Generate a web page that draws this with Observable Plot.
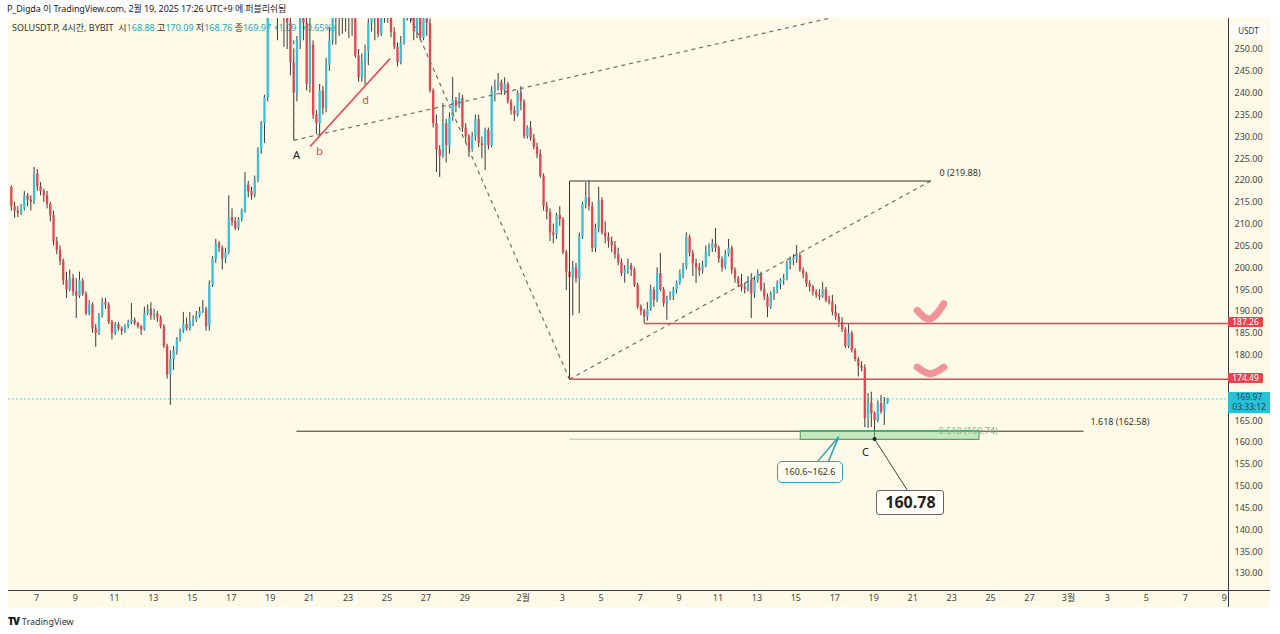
<!DOCTYPE html>
<html>
<head>
<meta charset="utf-8">
<script src="https://cdn.jsdelivr.net/npm/d3@7"></script>
<script src="https://cdn.jsdelivr.net/npm/@observablehq/plot@0.6"></script>
<style>
  html,body{margin:0;padding:0;background:#fff;}
  #wrap{position:relative;width:1280px;height:634px;overflow:hidden;font-family:"Noto Sans","Noto Sans CJK KR",sans-serif;color:#222;}
  #bg{position:absolute;left:8px;top:18px;width:1262px;height:589px;background:#fefae7;}
  #hdr{position:absolute;left:7px;top:3px;font-size:9px;line-height:12px;white-space:nowrap;color:#222;letter-spacing:-0.1px;}
  #leg{position:absolute;left:12px;top:22px;font-size:9px;line-height:12px;white-space:nowrap;color:#333;}
  #leg .v{color:#22a9c2;}
  #chart{position:absolute;left:0;top:0;}
  .box{position:absolute;box-sizing:border-box;text-align:center;white-space:nowrap;}
  #foot{position:absolute;left:8px;top:615px;font-size:9px;line-height:12px;color:#333;}
  #foot b{font-weight:900;font-size:10px;letter-spacing:-1px;margin-right:3px;color:#131722;}
</style>
</head>
<body>
<div id="wrap">
  <div id="bg"></div>
  <div id="hdr">P_Digda 이 TradingView.com, 2월 19, 2025 17:26 UTC+9 에 퍼블리쉬됨</div>
  <div id="leg">SOLUSDT.P, 4시간, BYBIT&nbsp;&nbsp;시<span class="v">168.88</span> 고<span class="v">170.09</span> 저<span class="v">168.76</span> 종<span class="v">169.97</span> <span class="v">+1.09 (+0.65%)</span></div>
  <div id="chart"></div>
  <div id="foot"><b>TV</b>TradingView</div>
</div>
<script>
// ---------- DATA (4-hour candles, first bar = Jan 5 17:00 KST) ----------
const firstOpen = 218.4;
const closes = [
  214, 213,
  212.5, 213.5, 216.5, 215.5, 215, 221.5,
  218.5, 217.5, 216.5, 214.5, 212, 206,
  204, 201.5, 197, 195, 197.5, 194.5,
  193.5, 197, 194, 189.5, 191.5, 186,
  185, 189, 192, 191.5, 187.5, 185,
  187, 186, 185.5, 186.5, 187.5, 188,
  187.3, 186.5, 185.8, 189.5, 190.5, 189,
  189.5, 188.5, 186.5, 182, 175.5, 179,
  181, 183.5, 185.5, 187, 186, 187.5,
  188, 189, 190, 190.5, 186.5, 196,
  202, 205.5, 204.5, 202, 203.5, 211.5,
  210.5, 209, 211, 213, 219, 217.5,
  216.5, 220, 227, 233, 239, 262,
  272, 285, 274, 266, 259, 256,
  247, 240, 252, 262, 256, 242,
  251, 235, 233, 240.5, 236.5, 246.5,
  252, 262, 258, 262, 257, 262,
  259, 257, 248.5, 243.5, 247, 249.5,
  256, 262, 257.5, 253.5, 260, 262,
  261, 254, 250.5, 247, 251.5, 257,
  262, 259, 254, 257.5, 252.5, 257,
  256, 240.5, 233, 227, 225.5, 233,
  228, 234.4, 238.3, 237, 238.8, 232,
  230, 227, 230, 234, 228.5, 228,
  231.5, 228, 240.5, 241.3, 242.5, 240.5,
  242, 238, 236, 235, 240, 238,
  230, 232, 229.6, 227.6, 226, 221,
  214, 212.7, 208, 207.5, 212, 211,
  203.5, 199, 197.8, 200, 197.5, 207,
  214.5, 216, 214, 204.5, 209, 215.4,
  208, 207, 206, 205, 203, 201.2,
  198.7, 199.5, 200.5, 199.5, 196, 191,
  190, 188.7, 190.5, 195, 192.5, 198.7,
  195, 191.8, 193, 193.5, 195, 196.5,
  198.7, 200, 207, 203.3, 201, 200,
  199.3, 200.5, 203.5, 204.5, 205.5, 204.5,
  202, 200, 203, 204.5, 199.4, 197.5,
  196.3, 195.5, 195, 197.1, 194.1, 197.1,
  198.6, 195, 193.3, 191, 194, 194.8,
  196.3, 197.1, 197.5, 200.9, 201.7, 202.2,
  202.8, 199.4, 198.6, 196.3, 195.6, 194.4,
  193.7, 193.3, 195, 192.5, 192.1, 189.8,
  188.7, 187.5, 185.8, 182, 185, 181,
  179, 177.5, 177, 165.5, 169, 166.6,
  165, 168.9, 167, 168.88, 169.97
];
const highs = [
  218.8, 215,
  214, 214.5, 217.5, 217, 216.5, 223,
  222.5, 219.5, 218, 217.5, 215, 213,
  207, 205, 202, 199, 199.5, 198.5,
  197.5, 199, 197.5, 194.5, 192.5, 192,
  187, 189.5, 193, 193, 192, 188,
  187.5, 187.5, 186.5, 187, 188, 191.8,
  188.5, 187.5, 186.8, 191, 191.5, 192,
  190.5, 190, 189, 187, 182.5, 181,
  182, 184, 186, 189.8, 188.5, 189.8,
  189, 190, 191, 192.5, 191, 197,
  202.5, 206.5, 206, 205, 204.5, 216.5,
  213.5, 211.5, 211.5, 213.5, 221.8, 219.8,
  218.5, 221, 227.5, 233.5, 239.5, 265,
  280, 295, 290, 278, 270, 263,
  258, 250, 253, 265, 268, 258,
  258, 252, 236, 242, 241.5, 248,
  255, 266, 265, 266, 264, 265,
  264, 262, 258, 250, 249, 251,
  257, 266, 264, 259, 262, 265,
  266, 262, 255, 251.5, 253, 259,
  266, 263, 260, 259, 258, 260,
  261, 257, 241, 235, 228, 237.6,
  234, 235.5, 243.6, 239, 240, 239.5,
  233, 230.5, 231, 235, 235, 230,
  232, 232, 241.5, 243, 244.5, 243,
  243.5, 242.5, 238.5, 237, 240.5, 241.5,
  238.5, 232.5, 233.5, 230.5, 228.5, 227,
  221.5, 215, 213.5, 210, 212.5, 214,
  211.5, 204, 201, 201.5, 201, 208,
  215, 219.5, 219.88, 215, 210, 218.5,
  216, 210.5, 208, 207, 206, 204.5,
  202, 200.5, 202, 201, 200, 196.5,
  191.5, 190.5, 192, 196, 195.5, 200,
  203.3, 195.5, 193.5, 194.5, 195.5, 197,
  199.5, 201, 208, 207.5, 204, 202,
  201, 201.5, 205, 205.5, 206.5, 209,
  205, 202.5, 204, 206.5, 205, 200,
  198, 198.5, 196.5, 198, 198.6, 198,
  199.5, 199, 196.5, 194, 194.5, 195.5,
  197, 197.5, 198.5, 201.5, 202.5, 203,
  205.1, 203.5, 200, 199, 197, 196,
  195, 195, 196.6, 195.5, 193.5, 193.7,
  191.5, 189.5, 188.6, 186.3, 187, 185.5,
  181.5, 179.5, 178.5, 177.8, 171.2, 171.5,
  167, 169.5, 170.8, 170.3, 170.09
];
const lows = [
  213, 211.3,
  211.5, 212, 213, 214, 213, 214.5,
  217.5, 216.5, 215, 213.5, 210.5, 205,
  203, 200.5, 196, 193, 194.5, 193.5,
  188.4, 193, 193.5, 189, 189, 185,
  181.8, 184.5, 188.5, 190.5, 187, 183.5,
  184.5, 185.5, 184.5, 185, 186, 187,
  186.8, 186, 184.5, 185.5, 189, 188,
  188, 187.5, 186, 181.5, 174.5, 168.5,
  176.5, 180, 183, 185, 185.5, 185.5,
  186.5, 187.5, 188.5, 189.5, 185.5, 185.5,
  195.5, 201, 203.5, 199.5, 201, 203,
  209.5, 208.5, 208.5, 210.5, 212.5, 216,
  215.5, 216, 219.5, 226, 228.5, 238,
  258, 268, 252, 258, 250.5, 250,
  244, 229.2, 238, 250, 252, 240.5,
  240, 234, 230.5, 229.8, 235, 235.5,
  245, 251, 251, 253, 253.5, 254,
  252.5, 253, 248, 242.5, 242.5, 241.8,
  246.3, 254, 252, 252.7, 253, 256,
  256, 252.7, 250, 246, 246.5, 251,
  256.5, 256, 252, 252.5, 252, 252,
  253, 240, 232, 221.8, 220.7, 225,
  224, 226, 233.5, 235.5, 236.5, 231,
  228.5, 225.3, 226.5, 229, 227.5, 225,
  222.3, 227, 227.5, 238, 240.5, 239.5,
  239.5, 237.5, 235, 233.5, 234.5, 236,
  229.5, 229.5, 229, 227, 225, 220.5,
  213, 211, 206, 205.5, 206.5, 209.5,
  203, 194.8, 174.49, 189, 196.5, 189.5,
  206.5, 213.5, 213, 203.5, 203.5, 208,
  207.5, 205.5, 204.5, 203.5, 202, 200.5,
  198, 196.5, 198.5, 198, 195.5, 190.5,
  189, 187.26, 187.8, 190, 191, 192,
  194.5, 191, 188, 192.5, 192.5, 194,
  196, 197.5, 199.5, 202.5, 198, 196.4,
  198, 198.5, 200, 202.5, 203.5, 203.5,
  201, 199, 199.5, 202.5, 198.5, 196.5,
  195.5, 194.5, 194, 194.5, 188.4, 193,
  196.5, 194.5, 192.5, 188.6, 190.5, 192.5,
  194, 195, 196, 197, 199.5, 200.5,
  201, 199, 197.5, 195.5, 194.5, 193.5,
  193, 192.5, 193, 192, 191.5, 189,
  188, 186.3, 185.2, 181.5, 181.5, 180.5,
  178.5, 175, 176.2, 163.4, 163.2, 163.4,
  160.78, 164.5, 166.5, 163.9, 168.76
];
const currentPrice = 169.97;
const countdown = "03:33:12";
const levelPrices = [187.26, 174.49];
// x axis: day numbers counted from Jan 0 (KST); Feb 1 = 32, Mar 1 = 60
const tickDays = [7,9,11,13,15,17,19,21,23,25,27,29,32,34,36,38,40,42,44,46,48,50,52,54,56,58,60,62,64,66,68];
const tickLabels = ["7","9","11","13","15","17","19","21","23","25","27","29","2월","3","5","7","9","11","13","15","17","19","21","23","25","27","3월","3","5","7","9"];
// price ticks (170 and 175 are hidden behind the price labels in the original)
const priceTicks = [130,135,140,145,150,155,160,165,180,185,190,195,200,205,210,215,220,225,230,235,240,245,250];
// pattern / fib anchors (day, price)
const fibLevels = [
  {name: "0", price: 219.88},
  {name: "0.618", price: 160.74},
  {name: "1.618", price: 162.58}
];
const zoneLow = 160.6, zoneHigh = 162.6;
const pointA = {t: 20.2083, p: 229.2};
const pointX = {t: 34.375, p: 174.49};
const pointC = {t: 50.042, p: 160.78};

// ---------- BUILD ----------
const T0 = 5 + 17/24;
const candles = closes.map((c, i) => ({
  t: T0 + i/6, o: i === 0 ? firstOpen : closes[i-1], c, h: highs[i], l: lows[i]
}));
const up = candles.filter(d => d.c >= d.o);
const down = candles.filter(d => d.c < d.o);
const labelMap = new Map(tickDays.map((d, i) => [d, tickLabels[i]]));

const UP = "#35c1d9", DOWN = "#e8434f", WICK = "#3a3a3a", RED = "#e8434f", TEAL = "#2aa5b5";
const X0 = 5.562, X1 = 68.22;

const dashed = [
  {x1: pointA.t, y1: pointA.p, x2: 52, y2: 261.5},
  {x1: pointA.t, y1: pointA.p, x2: pointA.t, y2: 252.5},
  {x1: 26.21, y1: 257.5, x2: pointX.t, y2: pointX.p},
  {x1: pointX.t, y1: pointX.p, x2: 52.92, y2: fibLevels[0].price}
];
const solidDark = [
  {x1: pointX.t, y1: pointX.p, x2: pointX.t, y2: fibLevels[0].price},
  {x1: pointX.t, y1: fibLevels[0].price, x2: 52.92, y2: fibLevels[0].price},
  {x1: 20.35, y1: fibLevels[2].price, x2: 60.775, y2: fibLevels[2].price}
];
const greenLine = [{x1: pointX.t, y1: fibLevels[1].price, x2: 55.43, y2: fibLevels[1].price}];
const redLevels = [
  {x1: 38.208, y1: levelPrices[0], x2: X1, y2: levelPrices[0]},
  {x1: pointX.t, y1: levelPrices[1], x2: X1, y2: levelPrices[1]}
];
const bdLine = [{x1: 21.05, y1: 227.78, x2: 25.16, y2: 247.94}];
const checkUp = [{t: 52.23, p: 190.23}, {t: 52.91, p: 188.33}, {t: 53.60, p: 191.77}];
const checkDown = [{t: 52.23, p: 177.25}, {t: 52.91, p: 175.74}, {t: 53.60, p: 177.25}];
const tealTail = [{t: 47.01, p: 155.1}, {t: 48.19, p: 161.23}, {t: 47.62, p: 155.1}];

const lbl = (t, p, s, dy, fill, size, anchor) =>
  Plot.text([{t, p, s}], {x: "t", y: "p", text: "s", dy, fill, fontSize: size, textAnchor: anchor || "middle"});

const chart = Plot.plot({
  width: 1280, height: 607,
  marginLeft: 8, marginRight: 52, marginTop: 18, marginBottom: 17,
  x: {domain: [X0, X1]},
  y: {domain: [126.1, 257.1]},
  style: {background: "transparent", fontFamily: "'Noto Sans', 'Noto Sans CJK KR', sans-serif", fontSize: "9px", color: "#444", overflow: "visible"},
  marks: [
    Plot.axisX({ticks: tickDays, tickFormat: d => labelMap.get(d), tickSize: 0, tickPadding: 4, fontSize: 9, fill: "#444", label: null}),
    Plot.axisY({anchor: "right", ticks: priceTicks, tickFormat: d => d.toFixed(2), tickSize: 0, tickPadding: 6, fontSize: 9, fill: "#444", label: null}),
    Plot.ruleY([currentPrice], {stroke: "#4cc4d4", strokeDasharray: "1.5,2.5", strokeWidth: 1}),
    Plot.ruleX(candles, {x: "t", y1: "l", y2: "h", stroke: WICK, strokeWidth: 1, clip: true}),
    Plot.ruleX(up, {x: "t", y1: "o", y2: "c", stroke: UP, strokeWidth: 2.3, clip: true}),
    Plot.ruleX(down, {x: "t", y1: "o", y2: "c", stroke: DOWN, strokeWidth: 2.3, clip: true}),
    Plot.link(dashed, {x1: "x1", y1: "y1", x2: "x2", y2: "y2", stroke: "#6e6e6e", strokeWidth: 1.2, strokeDasharray: "4,4", clip: true}),
    Plot.link(solidDark, {x1: "x1", y1: "y1", x2: "x2", y2: "y2", stroke: "#333", strokeWidth: 1, clip: true}),
    Plot.link(greenLine, {x1: "x1", y1: "y1", x2: "x2", y2: "y2", stroke: "#95d4a4", strokeWidth: 1.2, clip: true}),
    Plot.rect([{x1: 46.25, x2: 55.43, y1: zoneLow, y2: zoneHigh}], {x1: "x1", x2: "x2", y1: "y1", y2: "y2", fill: "#86d08e", fillOpacity: 0.45, stroke: "#3f9f6a", strokeWidth: 1}),
    Plot.link(redLevels, {x1: "x1", y1: "y1", x2: "x2", y2: "y2", stroke: RED, strokeWidth: 1.6, clip: true}),
    Plot.link(bdLine, {x1: "x1", y1: "y1", x2: "x2", y2: "y2", stroke: RED, strokeWidth: 1.6}),
    Plot.line(checkUp, {x: "t", y: "p", curve: "natural", stroke: "#ef8088", strokeOpacity: 0.85, strokeWidth: 7, strokeLinecap: "round", strokeLinejoin: "round"}),
    Plot.line(checkDown, {x: "t", y: "p", curve: "natural", stroke: "#ef8088", strokeOpacity: 0.85, strokeWidth: 7, strokeLinecap: "round", strokeLinejoin: "round"}),
    lbl(53.38, fibLevels[0].price, "0 (219.88)", -8, "#333", 9, "start"),
    lbl(61.13, fibLevels[2].price, "1.618 (162.58)", -9, "#333", 9, "start"),
    lbl(53.33, fibLevels[1].price, "0.618 (160.74)", -8, "#7fb592", 9, "start"),
    lbl(20.35, pointA.p, "A", 15, "#222", 11),
    lbl(21.53, 229.8, "b", 14, RED, 11),
    lbl(23.9, 238.32, "d", 0, RED, 11),
    lbl(49.58, pointC.p, "C", 13, "#222", 11),
    Plot.line(tealTail, {x: "t", y: "p", stroke: TEAL, strokeWidth: 1.5, fill: "none"}),
    Plot.link([{x1: pointC.t, y1: pointC.p, x2: 51.73, y2: 149.02}], {x1: "x1", y1: "y1", x2: "x2", y2: "y2", stroke: "#444", strokeWidth: 1}),
    Plot.dot([pointC], {x: "t", y: "p", r: 2, fill: "#222"})
  ]
});
document.getElementById("chart").appendChild(chart);

const sx = chart.scale("x"), sy = chart.scale("y");
const wrap = document.getElementById("wrap");
function addDiv(css, html) {
  const d = document.createElement("div");
  d.className = "box";
  Object.assign(d.style, css);
  d.innerHTML = html || "";
  wrap.appendChild(d);
  return d;
}
// frame lines
addDiv({left: "8px", top: "590px", width: "1262px", height: "1px", background: "#3a3a3a"});
addDiv({left: "1228px", top: "18px", width: "1px", height: "589px", background: "#3a3a3a"});
// currency box
addDiv({left: "1231px", top: "23px", width: "35px", height: "15px", background: "#fff", fontSize: "8px", lineHeight: "15px", color: "#333"}, "USDT");
// level labels on the price axis
levelPrices.forEach(p => {
  const y = sy.apply(p);
  addDiv({left: "1228px", top: (y - 6) + "px", width: "35px", height: "10px", background: RED, color: "#fff", fontSize: "8.5px", lineHeight: "10px", borderRadius: "1px"}, p.toFixed(2));
});
{
  const y = sy.apply(currentPrice);
  addDiv({left: "1228px", top: (y - 6.5) + "px", width: "42px", height: "21px", background: "#29c1d8", color: "#1d3f55", fontSize: "8.5px", lineHeight: "10px", paddingTop: "0.5px"}, currentPrice.toFixed(2) + "<br>" + countdown);
}
// callouts
{
  const cx = sx.apply(46.75), cy = sy.apply(153.11);
  addDiv({left: (cx - 33) + "px", top: (cy - 11) + "px", width: "66px", height: "22px", border: "1.5px solid " + TEAL, borderRadius: "5px", background: "#fefcf0", fontSize: "9px", lineHeight: "19px", color: "#333"}, "160.6~162.6");
  const gx = sx.apply(51.91), gy = sy.apply(146.2);
  addDiv({left: (gx - 34) + "px", top: (gy - 12.5) + "px", width: "68px", height: "25px", border: "1px solid #666", borderRadius: "3px", background: "#fffef7", fontSize: "16px", fontWeight: "bold", lineHeight: "23px", color: "#222"}, pointC.p.toFixed(2));
}
</script>
</body>
</html>
